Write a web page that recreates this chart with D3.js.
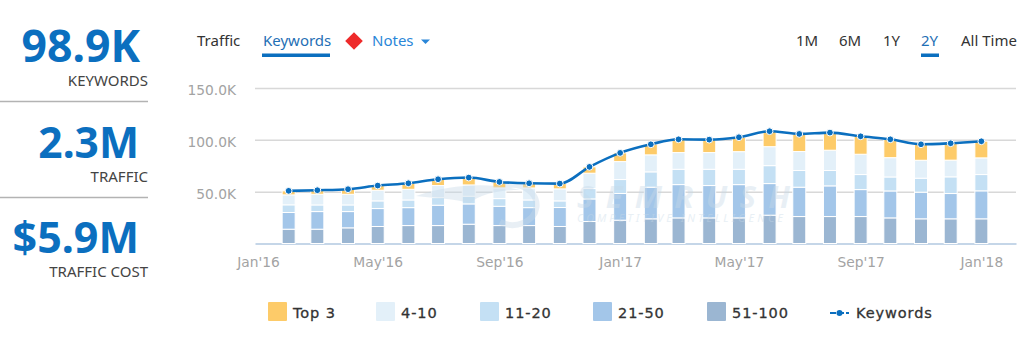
<!DOCTYPE html>
<html>
<head>
<meta charset="utf-8">
<style>
  html, body { margin: 0; padding: 0; background: #fff; }
  svg { display: block; }
</style>
<script src="https://cdn.jsdelivr.net/npm/d3@7"></script>
</head>
<body>
<div id="chart"></div>
<script>
// --------------------------------------------------------
// DATA (thousands of keywords)
// --------------------------------------------------------
const months = [
  "2016-02", "2016-03", "2016-04", "2016-05", "2016-06", "2016-07", "2016-08", "2016-09",
  "2016-10", "2016-11", "2016-12", "2017-01", "2017-02", "2017-03", "2017-04", "2017-05",
  "2017-06", "2017-07", "2017-08", "2017-09", "2017-10", "2017-11", "2017-12", "2018-01",
];
const top3 = [3.9, 3.9, 4.8, 4.5, 5.8, 6.1, 7.1, 5.8, 4.5, 5.1, 6.1, 8.4, 10.3, 12.8, 12.5, 13.8, 14.8, 17, 17, 17.3, 17.7, 15.4, 16.4, 16.1];
const pos4to10 = [9.6, 10.3, 10.3, 10.3, 10.3, 11.6, 10.9, 10.3, 11.6, 11.6, 14.8, 17.3, 16.4, 16.1, 16.1, 17, 18.3, 18.3, 19.6, 19.6, 18.6, 17.3, 16.1, 16.1];
const pos11to20 = [7.4, 6.4, 6.4, 7.4, 7.4, 7.4, 7.4, 7.4, 7.4, 6.4, 10, 13.5, 14.8, 14.8, 15.7, 14.8, 17.3, 16.1, 14.8, 14.5, 13.5, 13.5, 16.1, 15.7];
const pos21to50 = [16.1, 17, 15.7, 17.3, 17.3, 19.6, 19.6, 18.6, 17.3, 18.3, 21.8, 25.7, 30.5, 32.1, 31.2, 32.1, 30.5, 28.3, 29.6, 26, 26, 25.7, 24.4, 27];
const pos51to100 = [13.8, 13.8, 15.1, 16.4, 17.3, 17.3, 18.6, 17.3, 17.3, 16.4, 21.2, 22.5, 23.8, 24.7, 24.7, 24.7, 27.3, 26, 26, 26, 24.7, 23.8, 23.8, 23.8];
const keywords = [50.8, 51.4, 52.4, 55.9, 58.1, 62, 63.6, 59.4, 58.1, 57.8, 73.9, 87.4, 95.7, 100.5, 100.2, 102.5, 108.3, 105.7, 107, 103.4, 100.5, 95.7, 96.7, 98.6];

const yTicks = [50, 100, 150];
const xTicks = ["2016-01", "2016-05", "2016-09", "2017-01", "2017-05", "2017-09", "2018-01"];

const seriesNames = ["51-100", "21-50", "11-20", "4-10", "Top 3"];
const seriesValues = [pos51to100, pos21to50, pos11to20, pos4to10, top3];
const seriesColors = ["#9bb6d2", "#a3c6e9", "#c4e0f4", "#e3f0f9", "#fdcb69"];

const kpiValues = ["98.9K", "2.3M", "$5.9M"];
const kpiLabels = ["KEYWORDS", "TRAFFIC", "TRAFFIC COST"];
const ranges = ["1M", "6M", "1Y", "2Y", "All Time"];

// --------------------------------------------------------
// VARIABLES
// --------------------------------------------------------
const width = 1024;
const height = 359;
const blue = "#0b6fbf";
const linkBlue = "#2a86d8";
const uiFont = "'Noto Sans', 'Open Sans', sans-serif";
const axisFont = "'DejaVu Sans', sans-serif";

const parseMonth = d3.timeParse("%Y-%m");
const rows = months.map((m, i) => {
  const row = { date: parseMonth(m), keywords: keywords[i] };
  seriesNames.forEach((name, s) => (row[name] = seriesValues[s][i]));
  return row;
});

const x = d3.scaleTime()
  .domain([new Date(2015, 11, 29), new Date(2018, 1, 5)])
  .range([255, 1016]);
const y = d3.scaleLinear().domain([0, 150]).range([243.5, 88]);

const svg = d3.select("#chart").append("svg")
  .attr("width", width)
  .attr("height", height)
  .attr("viewBox", [0, 0, width, height]);

// --------------------------------------------------------
// KPI COLUMN
// --------------------------------------------------------
const kpi = svg.append("g").attr("text-anchor", "end");
const kpiValueRight = [140, 139, 139];
const kpiValueY = [62, 158, 253];
const kpiLabelY = [86, 181.5, 277];
const kpiSize = [44.5, 42.5, 43];
kpiValues.forEach((v, i) => {
  kpi.append("text").attr("x", kpiValueRight[i]).attr("y", kpiValueY[i])
    .attr("fill", blue).attr("font-family", uiFont).attr("font-weight", 700)
    .attr("font-size", kpiSize[i]).text(v);
  kpi.append("text").attr("x", 148).attr("y", kpiLabelY[i])
    .attr("fill", "#444").attr("font-family", uiFont).attr("font-size", 15).text(kpiLabels[i]);
});
[101.5, 197.5].forEach((ly) => {
  svg.append("line").attr("x1", 0).attr("x2", 148).attr("y1", ly).attr("y2", ly)
    .attr("stroke", "#b3b3b3").attr("stroke-width", 1.4);
});

// --------------------------------------------------------
// TOP NAV
// --------------------------------------------------------
const nav = svg.append("g").attr("font-family", uiFont).attr("font-size", 15);
nav.append("text").attr("x", 197).attr("y", 46).attr("fill", "#333").text("Traffic");
nav.append("text").attr("x", 263).attr("y", 46).attr("fill", "#1f6fb5").text("Keywords");
nav.append("rect").attr("x", 262).attr("y", 53.5).attr("width", 68).attr("height", 3.5).attr("fill", blue);
nav.append("path").attr("d", d3.symbol(d3.symbolSquare, 156)())
  .attr("transform", "translate(354,41) rotate(45)").attr("fill", "#ee2a2a");
nav.append("text").attr("x", 372).attr("y", 46).attr("fill", linkBlue).text("Notes");
nav.append("path").attr("d", "M421,39.5h9l-4.5,4.5z").attr("fill", linkBlue);

const rangeX = [796, 839, 883, 921, 961];
ranges.forEach((r, i) => {
  nav.append("text").attr("x", rangeX[i]).attr("y", 46)
    .attr("fill", r === "2Y" ? "#1f6fb5" : "#333").text(r);
});
nav.append("rect").attr("x", 921).attr("y", 53.5).attr("width", 18).attr("height", 3.5).attr("fill", blue);

// --------------------------------------------------------
// AXES
// --------------------------------------------------------
const yAxis = d3.axisLeft(y).tickValues(yTicks).tickSize(-(x.range()[1] - x.range()[0]))
  .tickFormat((d) => d.toFixed(1) + "K");
svg.append("g").attr("transform", `translate(${x.range()[0]},0)`).call(yAxis)
  .call((g) => g.select(".domain").remove())
  .call((g) => g.selectAll(".tick line").attr("stroke", "#d8d8d8").attr("stroke-width", 1.5))
  .call((g) => g.selectAll(".tick text").attr("x", -19).attr("y", 2).attr("fill", "#a3a3a3")
    .attr("font-family", axisFont).attr("font-size", 13.8));

const xAxis = d3.axisBottom(x).tickValues(xTicks.map(parseMonth)).tickSize(0)
  .tickFormat(d3.timeFormat("%b'%y"));
svg.append("g").attr("transform", "translate(0,243.5)").call(xAxis)
  .call((g) => g.select(".domain").attr("stroke", "#c5d6e8").attr("stroke-width", 2))
  .call((g) => g.selectAll(".tick text").attr("y", 14).attr("fill", "#a3a3a3")
    .attr("font-family", axisFont).attr("font-size", 13.8));

// --------------------------------------------------------
// BARS + LINE
// --------------------------------------------------------
const stacked = d3.stack().keys(seriesNames)(rows);
const barW = 13;
svg.append("g").selectAll("g").data(stacked).join("g")
  .attr("fill", (d, i) => seriesColors[i])
  .selectAll("rect").data((d) => d).join("rect")
  .attr("x", (d) => x(d.data.date) - barW / 2)
  .attr("width", barW)
  .attr("y", (d) => y(d[1]))
  .attr("height", (d) => y(d[0]) - y(d[1]))
  .attr("stroke", "#fff").attr("stroke-width", 1);

// --------------------------------------------------------
// WATERMARK (sits over the bars, very faint)
// --------------------------------------------------------
const mark = svg.append("g").attr("opacity", 0.4).attr("fill", "#c6d9e8");
mark.append("text").attr("x", 577).attr("y", 208).attr("font-family", uiFont)
  .attr("font-weight", 700).attr("font-style", "italic").attr("font-size", 31)
  .attr("textLength", 213).attr("lengthAdjust", "spacing").text("SEMRUSH");
mark.append("text").attr("x", 577).attr("y", 222).attr("font-family", uiFont)
  .attr("font-style", "italic").attr("font-size", 11)
  .attr("textLength", 206).attr("lengthAdjust", "spacing").text("COMPETITIVE INTELLIGENCE");
mark.append("path").attr("d", "M416,196C450,184 490,182 520,190C500,190 480,194 470,203C455,199 435,198 416,196Z");
mark.append("path").attr("d", "M505,186A24,20 0 1 1 500,222").attr("fill", "none")
  .attr("stroke", "#c6d9e8").attr("stroke-width", 6);

const line = d3.line().x((d) => x(d.date)).y((d) => y(d.keywords)).curve(d3.curveMonotoneX);
svg.append("path").datum(rows).attr("d", line)
  .attr("fill", "none").attr("stroke", blue).attr("stroke-width", 2.6);
svg.append("g").selectAll("circle").data(rows).join("circle")
  .attr("cx", (d) => x(d.date)).attr("cy", (d) => y(d.keywords)).attr("r", 3.4)
  .attr("fill", blue).attr("stroke", "#fff").attr("stroke-width", 1);

// --------------------------------------------------------
// LEGEND
// --------------------------------------------------------
const legendOrder = ["Top 3", "4-10", "11-20", "21-50", "51-100"];
const legendX = [268, 376, 480, 593, 707];
const legend = svg.append("g").attr("font-family", axisFont).attr("font-size", 14.5)
  .attr("letter-spacing", 0.9).attr("fill", "#333");
legendOrder.forEach((name, i) => {
  legend.append("rect").attr("x", legendX[i]).attr("y", 302).attr("width", 19).attr("height", 19)
    .attr("rx", 1).attr("fill", seriesColors[seriesNames.indexOf(name)]);
  legend.append("text").attr("x", legendX[i] + 25).attr("y", 318)
    .attr("stroke", "#333").attr("stroke-width", 0.3).text(name);
});
legend.append("line").attr("x1", 830).attr("x2", 849).attr("y1", 313).attr("y2", 313)
  .attr("stroke", blue).attr("stroke-width", 2).attr("stroke-dasharray", "6 2");
legend.append("circle").attr("cx", 839.5).attr("cy", 313).attr("r", 3).attr("fill", blue);
legend.append("text").attr("x", 856).attr("y", 318)
  .attr("stroke", "#333").attr("stroke-width", 0.3).text("Keywords");
</script>
</body>
</html>
